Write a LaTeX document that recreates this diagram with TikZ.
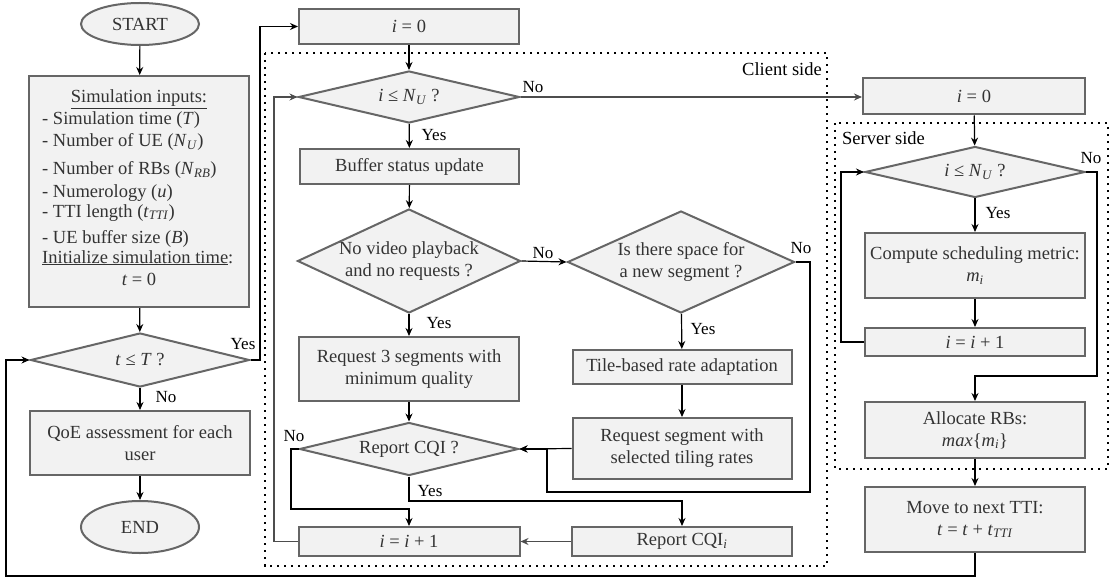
\documentclass[tikz,border=0pt]{standalone}
\usepackage{fontspec}
\setmainfont{Liberation Serif}
\usetikzlibrary{shapes.geometric,arrows.meta}
\definecolor{bfill}{HTML}{F2F2F2}
\definecolor{bdraw}{HTML}{666666}
\definecolor{btext}{HTML}{333333}
\definecolor{lgray}{HTML}{4D4D4D}
\tikzset{
  base/.style={draw=bdraw, line width=2pt, fill=bfill, text=btext,
    font=\fontsize{18.5}{22}\selectfont, inner sep=0pt, align=center},
  box/.style={base, rectangle},
  term/.style={base, ellipse},
  dia/.style={base, diamond},
  txt/.style={text=btext, font=\fontsize{18.5}{22}\selectfont, inner sep=0pt, align=center},
  lab/.style={font=\fontsize{17}{20}\selectfont, inner sep=0pt},
  sidelab/.style={font=\fontsize{18.5}{22}\selectfont, inner sep=0pt},
  arr/.style={-{Stealth[length=8pt,width=7pt]}, line width=1.2pt},
  arrg/.style={-{Stealth[length=8pt,width=7pt]}, line width=1.6pt, draw=lgray},
  ln/.style={line width=1.2pt},
  lng/.style={line width=1.6pt, draw=lgray},
  dotbox/.style={line width=2.4pt, dash pattern=on 2.4pt off 4.6pt}
}
\begin{document}
\begin{tikzpicture}[x=1pt,y=-1pt]
\useasboundingbox (0,0) rectangle (1110,580);

% dotted regions
\draw[dotbox] (265,53) rectangle (827,566);
\draw[dotbox] (835,123) rectangle (1108,469);
\node[sidelab, anchor=east] (client) at (822,69) {Client side};
\node[sidelab, anchor=west] (server) at (842,138) {Server side};

% left column
\node[term, minimum width=118pt, minimum height=42pt] (start) at (140,24) {START};
\node[box, minimum width=220pt, minimum height=231pt] (inputs) at (139,191.5) {};
\node[txt, anchor=base] (in1) at (139,103) {\underline{Simulation inputs:}};
\node[txt, anchor=base west] (in2) at (42,125) {- Simulation time (\textit{T})};
\node[txt, anchor=base west] (in3) at (42,147) {- Number of UE (\textit{N}\textsubscript{\textit{U}})};
\node[txt, anchor=base west] (in4) at (42,175) {- Number of RBs (\textit{N}\textsubscript{\textit{RB}})};
\node[txt, anchor=base west] (in5) at (42,197) {- Numerology (\textit{u})};
\node[txt, anchor=base west] (in6) at (42,217) {- TTI length (\textit{t}\textsubscript{\textit{TTI}})};
\node[txt, anchor=base west] (in7) at (42,243) {- UE buffer size (\textit{B})};
\node[txt, anchor=base west] (in8) at (42,263) {\underline{Initialize simulation time}:};
\node[txt, anchor=base] (in9) at (139,285) {\textit{t} = 0};

\node[dia, minimum width=219pt, minimum height=54pt] (d0) at (140,360) {};
\node[txt] (d0t) at (140,360) {\textit{t} ≤ \textit{T} ?};
\node[box, minimum width=220pt, minimum height=64pt] (qoe) at (140,443) {QoE assessment for each\\user};
\node[term, minimum width=118pt, minimum height=52pt] (end) at (140,527) {END};

% middle column
\node[box, minimum width=220pt, minimum height=35pt] (i0) at (409,26.5) {\textit{i} = 0};
\node[dia, minimum width=221pt, minimum height=52pt] (d1) at (409,97) {};
\node[txt] (d1t) at (409,97) {\textit{i} ≤ \textit{N}\textsubscript{\textit{U}} ?};
\node[box, minimum width=219pt, minimum height=35pt] (buf) at (409.5,166.5) {Buffer status update};
\node[dia, minimum width=223pt, minimum height=104pt] (d2) at (409,261) {};
\node[txt] (d2t) at (409,261) {No video playback\\and no requests ?};
\node[box, minimum width=220pt, minimum height=64pt] (req3) at (409,369) {Request 3 segments with\\minimum quality};
\node[dia, minimum width=219pt, minimum height=53pt] (d4) at (409,449) {};
\node[txt] (d4t) at (409,449) {Report CQI ?};
\node[box, minimum width=221pt, minimum height=29pt] (inc) at (409,541.5) {\textit{i} = \textit{i} + 1};

\node[dia, minimum width=227pt, minimum height=102pt] (d3) at (681,262) {};
\node[txt] (d3t) at (681,262) {Is there space for\\a new segment ?};
\node[box, minimum width=219pt, minimum height=34pt] (tile) at (682,367) {Tile-based rate adaptation};
\node[box, minimum width=219pt, minimum height=61pt] (reqseg) at (682,448.5) {Request segment with\\selected tiling rates};
\node[box, minimum width=220pt, minimum height=29pt] (rcqi) at (682,541.5) {Report CQI\textsubscript{\textit{i}}};

% right column
\node[box, minimum width=222pt, minimum height=36pt] (i0s) at (974,96.5) {\textit{i} = 0};
\node[dia, minimum width=220pt, minimum height=51pt] (d5) at (975,172) {};
\node[txt] (d5t) at (975,172) {\textit{i} ≤ \textit{N}\textsubscript{\textit{U}} ?};
\node[box, minimum width=220pt, minimum height=65pt] (comp) at (975,265.5) {Compute scheduling metric:\\\textit{m}\textsubscript{\textit{i}}};
\node[box, minimum width=220pt, minimum height=28pt] (inc2) at (975,342) {\textit{i} = \textit{i} + 1};
\node[box, minimum width=220pt, minimum height=56pt] (alloc) at (975,430) {Allocate RBs:\\\textit{max}\{\textit{m}\textsubscript{\textit{i}}\}};
\node[box, minimum width=220pt, minimum height=65pt] (move) at (975,519.5) {Move to next TTI:\\\textit{t} = \textit{t} + \textit{t}\textsubscript{\textit{TTI}}};

% helper coordinates
\coordinate (c0) at (260,26.5);
\coordinate (c1) at (810,492);
\coordinate (c2) at (547,492);
\coordinate (c3) at (291,509);
\coordinate (c4) at (409,501);
\coordinate (c5) at (274,97);
\coordinate (c6) at (1097,376);
\coordinate (c7) at (6,576);
\coordinate (c8) at (841,172);

% connectors: left
\draw[arr] (start) -- (inputs);
\draw[arr] (inputs) -- (d0);
\draw[arr] (d0) -- (qoe);
\draw[arr] (qoe) -- (end);
\draw[arr] (d0.east) -| (c0) -- (i0.west);
\draw[arr] (move.south) |- (c7) |- (d0.west);

% connectors: middle
\draw[arr] (i0) -- (d1);
\draw[arrg] (d1.east) -- (d1.east -| i0s.west);
\draw[arr] (d1) -- (buf);
\draw[arr] (buf) -- (d2);
\draw[arr] (d2.east) -- (d3.west);
\draw[arr] (d2) -- (req3);
\draw[arr] (d3) -- (tile);
\draw[arr] (tile) -- (reqseg);
\draw[arr] (reqseg.west) -- (d4.east);
\draw[arr] (d3.east) -| (c1) -- (c2) |- (d4.east);
\draw[arr] (req3) -- (d4);
\draw[arr] (d4.west) -| (c3) -| (inc.north);
\draw[arr] (d4.south) -- (c4) -| (rcqi.north);
\draw[arrg] (rcqi.west) -- (inc.east);
\draw[arrg] (inc.west) -| (c5) -- (d1.west);

% connectors: right
\draw[arr] (i0s) -- (d5);
\draw[arr] (d5) -- (comp);
\draw[arr] (comp) -- (inc2);
\draw[arr] (inc2.west) -| (c8) -- (d5.west);
\draw[arr] (d5.east) -| (c6) -| (alloc.north);
\draw[arr] (alloc) -- (move);

% labels
\node[lab] (l1) at (243,344) {Yes};
\node[lab] (l2) at (166,397) {No};
\node[lab] (l3) at (533,87) {No};
\node[lab] (l4) at (434,135) {Yes};
\node[lab] (l5) at (543,253) {No};
\node[lab] (l6) at (439,323) {Yes};
\node[lab] (l7) at (801,248) {No};
\node[lab] (l8) at (703,329) {Yes};
\node[lab] (l9) at (294,436) {No};
\node[lab] (l10) at (430,491) {Yes};
\node[lab] (l11) at (1091,158) {No};
\node[lab] (l12) at (998,213) {Yes};
\end{tikzpicture}
\end{document}
